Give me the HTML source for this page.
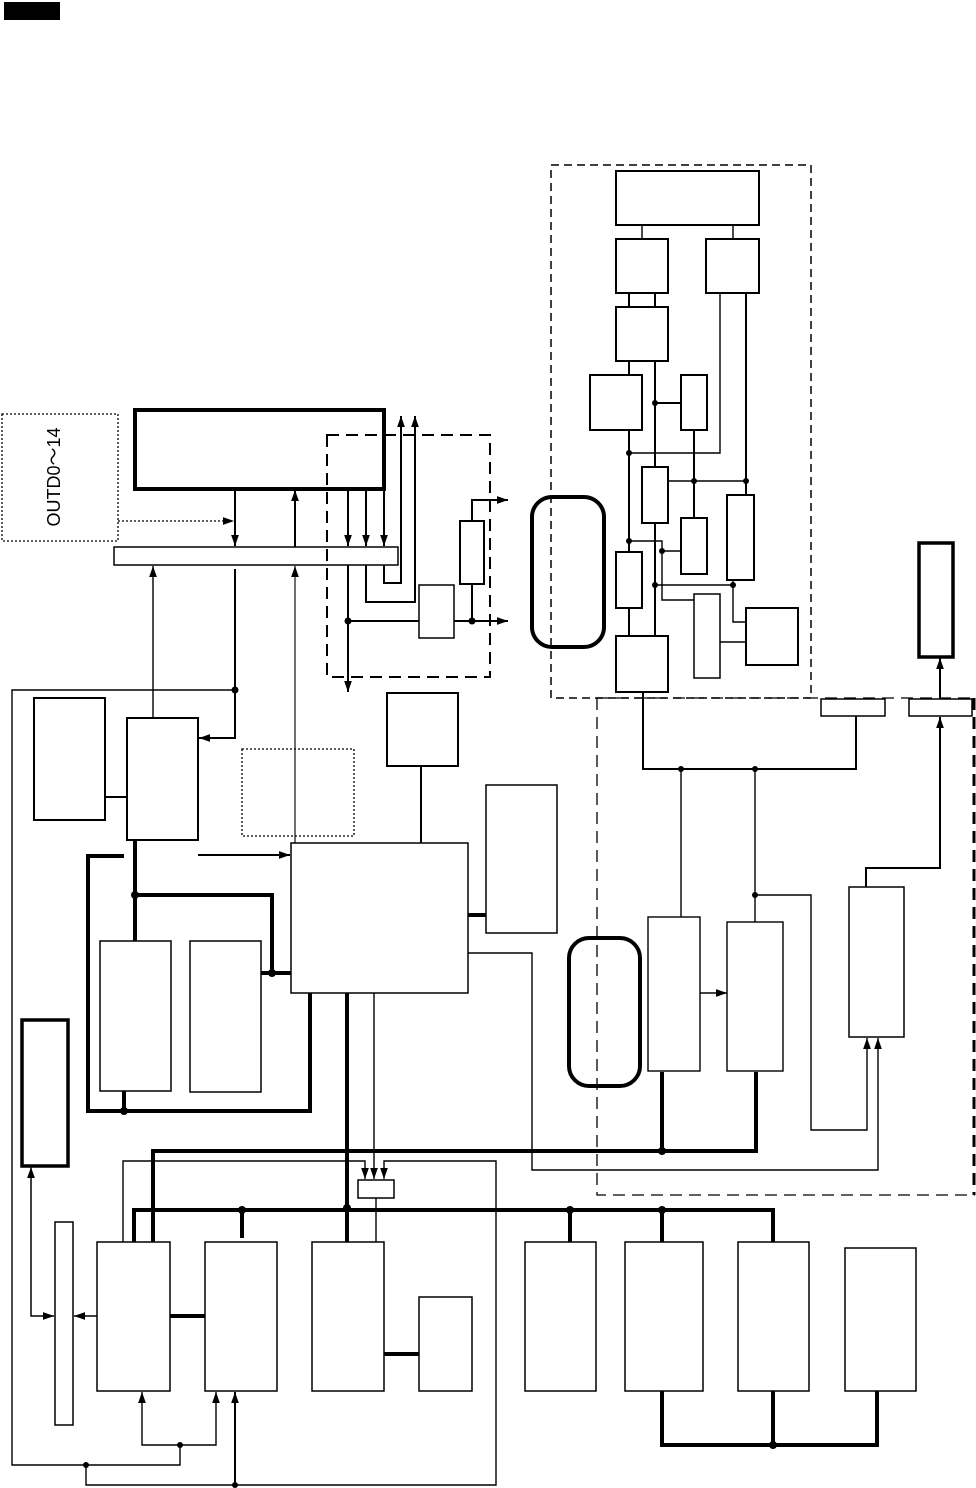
<!DOCTYPE html>
<html><head><meta charset="utf-8"><style>html,body{margin:0;padding:0;background:#fff}svg{display:block}</style></head>
<body>
<svg width="976" height="1488" viewBox="0 0 976 1488" xmlns="http://www.w3.org/2000/svg" fill="none" stroke="#000">
<defs>
<marker id="a" viewBox="0 0 10 10" refX="10" refY="5" markerWidth="11" markerHeight="11" markerUnits="userSpaceOnUse" orient="auto"><path d="M0,1.5 L10,5 L0,8.5 z" fill="#000" stroke="none"/></marker>
</defs>
<rect x="4" y="2" width="56" height="18" fill="#000" stroke="none"/>
<!-- OUTD -->
<rect x="2" y="414" width="116" height="127" stroke-dasharray="2,2" stroke-width="1.3"/>
<text x="55" y="477" transform="rotate(-90 55 477)" font-family="Liberation Sans, Noto Sans CJK JP, sans-serif" font-size="18" fill="#000" stroke="none" text-anchor="middle" dominant-baseline="middle">OUTD0～14</text>
<line x1="118" y1="521" x2="234" y2="521" stroke-dasharray="2,2" stroke-width="1.3" marker-end="url(#a)"/>
<!-- big box & bar -->
<rect x="135" y="410" width="249" height="79" stroke-width="4"/>
<rect x="114" y="547" width="284" height="18" stroke-width="1.5"/>
<g stroke-width="2">
<line x1="235" y1="489" x2="235" y2="546" marker-end="url(#a)"/>
<line x1="295" y1="547" x2="295" y2="490" marker-end="url(#a)"/>
<line x1="348" y1="489" x2="348" y2="546" marker-end="url(#a)"/>
<line x1="366" y1="489" x2="366" y2="546" marker-end="url(#a)"/>
<line x1="384" y1="489" x2="384" y2="546" marker-end="url(#a)"/>
<polyline points="384,565 384,583 401,583 401,416" marker-end="url(#a)"/>
<polyline points="366,565 366,602 415,602 415,416" marker-end="url(#a)"/>
<line x1="348" y1="565" x2="348" y2="692" marker-end="url(#a)"/>
<line x1="348" y1="621" x2="419" y2="621"/>
<line x1="454" y1="621" x2="508" y2="621" marker-end="url(#a)"/>
<polyline points="472,621 472,584"/>
<polyline points="472,521 472,500 508,500" marker-end="url(#a)"/>
<rect x="419" y="585" width="35" height="53" stroke-width="1.5"/>
<rect x="460" y="521" width="24" height="63"/>
<polyline points="235,569 235,738 199,738" marker-end="url(#a)"/>
</g>
<rect x="327" y="435" width="163" height="242" stroke-dasharray="12,7" stroke-width="2"/>
<circle cx="348" cy="621" r="3" fill="#000"/><circle cx="472" cy="621" r="3" fill="#000"/><circle cx="235" cy="690" r="3" fill="#000"/>
<polyline points="235,690 12,690 12,1465 180,1465 180,1445" stroke-width="1.4"/>
<line x1="153" y1="718" x2="153" y2="566" marker-end="url(#a)" stroke-width="1.4"/>
<line x1="295" y1="843" x2="295" y2="566" marker-end="url(#a)" stroke-width="1.4" stroke="#333"/>
<!-- middle-left -->
<rect x="34" y="698" width="71" height="122" stroke-width="2"/>
<rect x="127" y="718" width="71" height="122" stroke-width="2"/>
<line x1="105" y1="797" x2="127" y2="797" stroke-width="2"/>
<rect x="242" y="749" width="112" height="87" stroke-dasharray="2,2" stroke-width="1.3"/>
<rect x="387" y="693" width="71" height="73" stroke-width="2"/>
<line x1="421" y1="766" x2="421" y2="843" stroke-width="2"/>
<rect x="291" y="843" width="177" height="150" stroke-width="1.5"/>
<line x1="198" y1="855" x2="290" y2="855" stroke-width="2" marker-end="url(#a)"/>
<rect x="100" y="941" width="71" height="150" stroke-width="1.5"/>
<rect x="190" y="941" width="71" height="151" stroke-width="1.5"/>
<g stroke-width="4">
<polyline points="135,840 135,895 272,895 272,973 291,973"/>
<line x1="135" y1="895" x2="135" y2="941"/>
<line x1="261" y1="973" x2="272" y2="973"/>
<polyline points="124,856 88,856 88,1111 310,1111 310,993"/>
<line x1="124" y1="1091" x2="124" y2="1111"/>
<line x1="468" y1="915" x2="486" y2="915"/>
<line x1="347" y1="993" x2="347" y2="1242"/>
<polyline points="153,1242 153,1151 662,1151 756,1151 756,1072"/>
<line x1="662" y1="1151" x2="662" y2="1072"/>
<polyline points="134,1242 134,1210 773,1210 773,1242"/>
<line x1="242" y1="1210" x2="242" y2="1238"/>
<line x1="570" y1="1210" x2="570" y2="1242"/>
<line x1="662" y1="1210" x2="662" y2="1242"/>
<line x1="170" y1="1316" x2="205" y2="1316"/>
<line x1="384" y1="1354" x2="419" y2="1354"/>
<polyline points="662,1391 662,1445 877,1445 877,1391"/>
<line x1="773" y1="1391" x2="773" y2="1445"/>
</g>
<g fill="#000" stroke="none">
<circle cx="135" cy="895" r="4"/><circle cx="272" cy="973" r="4"/><circle cx="124" cy="1111" r="4"/>
<circle cx="662" cy="1151" r="4"/><circle cx="242" cy="1210" r="4"/><circle cx="347" cy="1208" r="4"/>
<circle cx="570" cy="1210" r="4"/><circle cx="662" cy="1210" r="4"/><circle cx="773" cy="1445" r="4"/>
<circle cx="86" cy="1465" r="3"/><circle cx="180" cy="1445" r="3"/><circle cx="235" cy="1485" r="3"/>
</g>
<rect x="22" y="1020" width="46" height="146" stroke-width="3.5"/>
<rect x="486" y="785" width="71" height="148" stroke-width="1.5"/>
<polyline points="468,953 532,953 532,1170 878,1170 878,1038" stroke-width="1.4" marker-end="url(#a)"/>
<line x1="374" y1="993" x2="374" y2="1179" stroke-width="1.4" marker-end="url(#a)"/>
<polyline points="123,1242 123,1161 365,1161 365,1179" stroke-width="1.4" marker-end="url(#a)"/>
<polyline points="86,1465 86,1485 496,1485 496,1161 384,1161 384,1179" stroke-width="1.4" marker-end="url(#a)"/>
<rect x="358" y="1180" width="36" height="18" stroke-width="1.5"/>
<line x1="376" y1="1198" x2="376" y2="1242" stroke-width="1.4"/>
<!-- bottom boxes -->
<g stroke-width="1.5">
<rect x="97" y="1242" width="73" height="149"/>
<rect x="205" y="1242" width="72" height="149"/>
<rect x="312" y="1242" width="72" height="149"/>
<rect x="419" y="1297" width="53" height="94"/>
<rect x="55" y="1222" width="18" height="203"/>
<rect x="525" y="1242" width="71" height="149"/>
<rect x="625" y="1242" width="78" height="149"/>
<rect x="738" y="1242" width="71" height="149"/>
<rect x="845" y="1248" width="71" height="143"/>
</g>
<line x1="97" y1="1316" x2="74" y2="1316" stroke-width="1.4" marker-end="url(#a)"/>
<polyline points="31,1178 31,1316 54,1316" stroke-width="1.5" marker-end="url(#a)"/>
<line x1="31" y1="1178" x2="31" y2="1167" stroke-width="1.5" marker-end="url(#a)"/>
<polyline points="180,1445 142,1445 142,1392" stroke-width="1.4" marker-end="url(#a)"/>
<polyline points="180,1445 216,1445 216,1392" stroke-width="1.4" marker-end="url(#a)"/>
<line x1="235" y1="1485" x2="235" y2="1392" stroke-width="2" marker-end="url(#a)"/>
<!-- right dashed regions -->
<rect x="551" y="165" width="260" height="533" stroke-dasharray="8,5" stroke-width="1.5"/>
<path d="M597,698 L975,698 M597,698 L597,1195 L975,1195" stroke-dasharray="12,7" stroke-width="1.3"/>
<line x1="974" y1="698" x2="974" y2="1195" stroke-dasharray="12,7" stroke-width="3"/>
<rect x="532" y="497" width="72" height="150" rx="20" stroke-width="4"/>
<rect x="569" y="938" width="71" height="148" rx="20" stroke-width="4"/>
<!-- top dashed internals -->
<g stroke-width="2">
<rect x="616" y="171" width="143" height="54"/>
<rect x="616" y="239" width="52" height="54"/>
<rect x="706" y="239" width="53" height="54"/>
<rect x="616" y="307" width="52" height="54"/>
<rect x="590" y="375" width="52" height="55"/>
<rect x="681" y="375" width="26" height="55"/>
<rect x="642" y="467" width="26" height="56"/>
<rect x="727" y="495" width="27" height="85"/>
<rect x="681" y="518" width="26" height="56"/>
<rect x="616" y="552" width="26" height="56"/>
<rect x="746" y="608" width="52" height="57"/>
<rect x="616" y="636" width="52" height="56"/>
<line x1="629" y1="293" x2="629" y2="307"/><line x1="655" y1="293" x2="655" y2="307"/>
<line x1="629" y1="361" x2="629" y2="375"/>
<line x1="655" y1="361" x2="655" y2="467"/>
<line x1="655" y1="403" x2="681" y2="403"/>
<line x1="629" y1="430" x2="629" y2="552"/>
<line x1="694" y1="430" x2="694" y2="518"/>
<line x1="746" y1="293" x2="746" y2="495"/>
<line x1="655" y1="523" x2="655" y2="636"/>
<line x1="629" y1="608" x2="629" y2="636"/>
<polyline points="643,692 643,769 856,769 856,716"/>
<polyline points="866,887 866,868 940,868 940,717" marker-end="url(#a)"/>
<line x1="940" y1="699" x2="940" y2="658" marker-end="url(#a)"/>
</g>
<rect x="694" y="594" width="26" height="84" stroke-width="1.5"/>
<g stroke-width="1.4">
<line x1="642" y1="225" x2="642" y2="239"/><line x1="733" y1="225" x2="733" y2="239"/>
<polyline points="720,293 720,453 629,453"/>
<line x1="668" y1="481" x2="746" y2="481"/>
<polyline points="629,541 662,541 662,600 694,600"/>
<line x1="662" y1="551" x2="681" y2="551"/>
<line x1="655" y1="585" x2="733" y2="585"/>
<polyline points="733,580 733,622 746,622"/>
<line x1="720" y1="642" x2="746" y2="642"/>
<line x1="681" y1="769" x2="681" y2="917"/>
<line x1="755" y1="769" x2="755" y2="922"/>
<polyline points="755,895 811,895 811,1130 867,1130 867,1038" marker-end="url(#a)"/>
<line x1="700" y1="993" x2="727" y2="993" marker-end="url(#a)"/>
</g>
<g fill="#000" stroke="none">
<circle cx="655" cy="403" r="3"/><circle cx="629" cy="453" r="3"/><circle cx="694" cy="481" r="3"/><circle cx="746" cy="481" r="3"/>
<circle cx="629" cy="541" r="3"/><circle cx="662" cy="551" r="3"/><circle cx="655" cy="585" r="3"/><circle cx="733" cy="585" r="3"/>
<circle cx="681" cy="769" r="3"/><circle cx="755" cy="769" r="3"/><circle cx="755" cy="895" r="3"/>
</g>
<rect x="821" y="699" width="64" height="17" stroke-width="1.5"/>
<rect x="909" y="699" width="63" height="17" stroke-width="1.5"/>
<rect x="919" y="543" width="34" height="114" stroke-width="3.5"/>
<rect x="849" y="887" width="55" height="150" stroke-width="1.5"/>
<rect x="648" y="917" width="52" height="154" stroke-width="1.4"/>
<rect x="727" y="922" width="56" height="149" stroke-width="1.4"/>
</svg>
</body></html>
